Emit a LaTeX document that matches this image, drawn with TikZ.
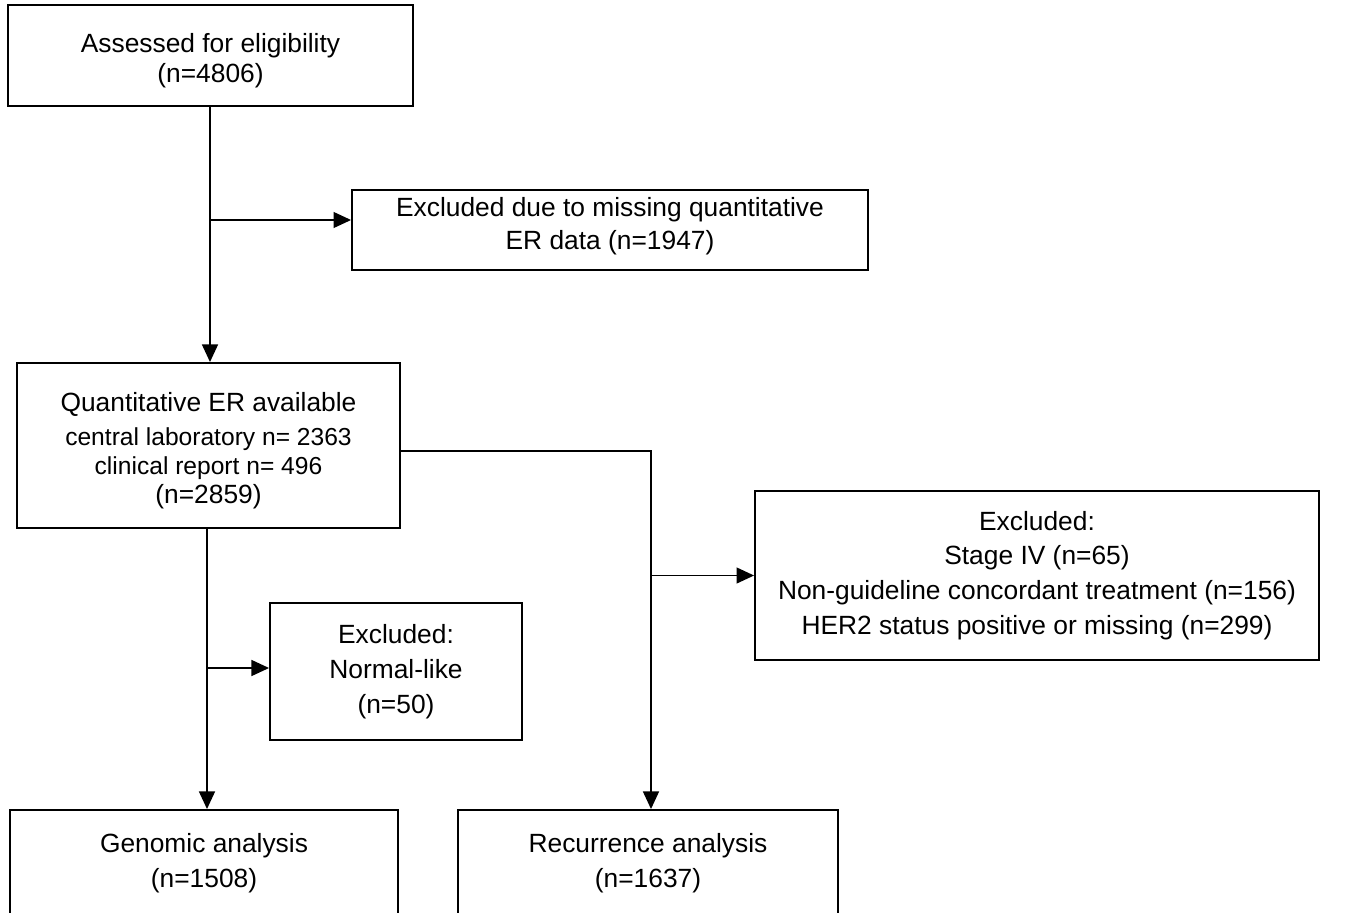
\documentclass[tikz,border=0pt]{standalone}
\usepackage{fontspec}
\setmainfont{Liberation Sans}
\usetikzlibrary{arrows.meta}
\tikzset{
  box/.style={draw=black, line width=1.1pt, rectangle, align=center, inner sep=2pt,
    font=\fontsize{15}{19.8}\selectfont},
  arr/.style={draw=black, line width=1.1pt, -{Triangle[length=10pt,width=9pt]}},
  ln/.style={draw=black, line width=1.1pt}
}
\begin{document}
\begin{tikzpicture}[x=0.02cm, y=-0.02cm]
\useasboundingbox[fill=white] (0,0) rectangle (1356,913);
\node[box, minimum width=8.1cm, minimum height=2.02cm, font=\fontsize{15}{17}\selectfont] (A) at (210.5,55.5)
  {\rule{0pt}{16.8pt}Assessed for eligibility\\(n=4806)};
\node[box, minimum width=10.32cm, minimum height=1.6cm, font=\fontsize{15}{18.7}\selectfont] (B) at (610,230)
  {Excluded due to missing quantitative\\ER data (n=1947)\rule[-7.8pt]{0pt}{0pt}};
\node[box, minimum width=7.66cm, minimum height=3.3cm, font=\fontsize{14}{16.4}\selectfont] (Q) at (208.5,445.5)
  {{\fontsize{15}{18}\selectfont\rule{0pt}{16.8pt}Quantitative ER available}\\[3pt]central laboratory n= 2363\\clinical report n= 496\\{\fontsize{15}{18}\selectfont (n=2859)}};
\node[box, minimum width=11.28cm, minimum height=3.38cm] (C) at (1037,575.5)
  {Excluded:\\Stage IV (n=65)\\Non-guideline concordant treatment (n=156)\\HER2 status positive or missing (n=299)};
\node[box, minimum width=5.04cm, minimum height=2.74cm] (N) at (396,671.5)
  {Excluded:\\Normal-like\\(n=50)};
\node[box, minimum width=7.76cm, minimum height=2.12cm] (G) at (204,863)
  {Genomic analysis\\(n=1508)};
\node[box, minimum width=7.6cm, minimum height=2.12cm] (R) at (648,863)
  {Recurrence analysis\\(n=1637)};
% connectors
\coordinate (j1) at (210,220);
\draw[arr] (A.south -| j1) -- (j1 |- Q.north);
\draw[arr] (j1) -- (j1 -| B.west);
\coordinate (k) at (651,451);
\coordinate (k2) at (651,575.5);
\draw[arr] (k -| Q.east) -- (k) -- (k |- R.north);
\draw[arr] (k2) -- (C.west);
\coordinate (m) at (207,668);
\draw[arr] (m |- Q.south) -- (m |- G.north);
\draw[arr] (m) -- (m -| N.west);
\end{tikzpicture}
\end{document}
